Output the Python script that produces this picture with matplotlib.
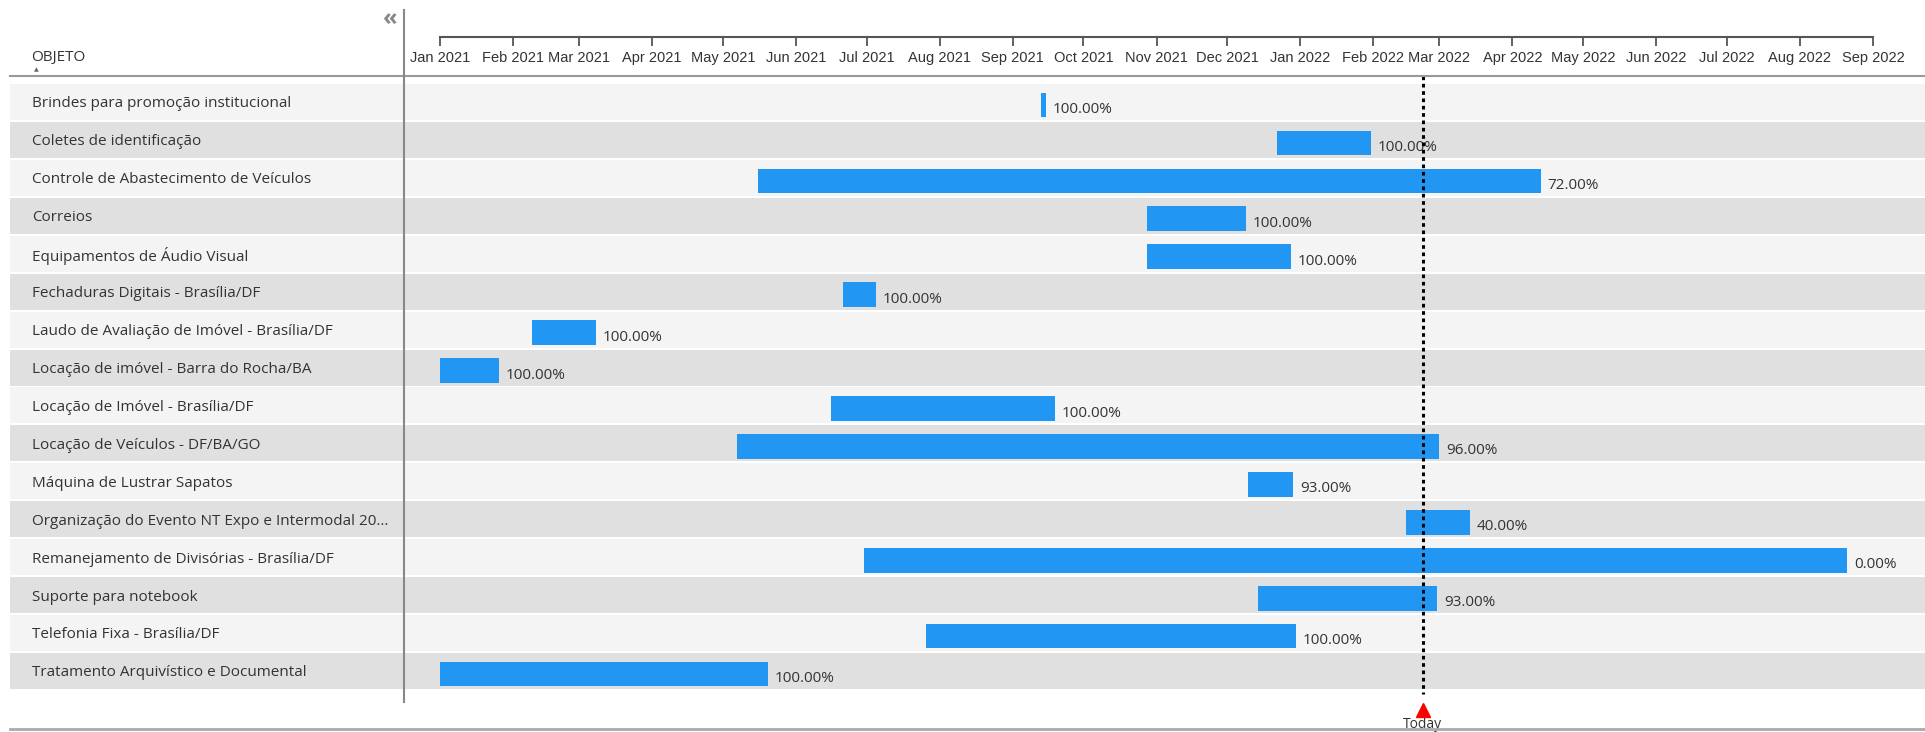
import numpy as np
import pandas as pd
import matplotlib
matplotlib.use('Agg')
import matplotlib.pyplot as plt
import matplotlib.dates as mdates
from matplotlib.lines import Line2D

# dados do gantt
objetos = [
    'Brindes para promoção institucional',
    'Coletes de identificação',
    'Controle de Abastecimento de Veículos',
    'Correios',
    'Equipamentos de Áudio Visual',
    'Fechaduras Digitais - Brasília/DF',
    'Laudo de Avaliação de Imóvel - Brasília/DF',
    'Locação de imóvel - Barra do Rocha/BA',
    'Locação de Imóvel - Brasília/DF',
    'Locação de Veículos - DF/BA/GO',
    'Máquina de Lustrar Sapatos',
    'Organização do Evento NT Expo e Intermodal 20...',
    'Remanejamento de Divisórias - Brasília/DF',
    'Suporte para notebook',
    'Telefonia Fixa - Brasília/DF',
    'Tratamento Arquivístico e Documental',
]
inicio = ['2021-09-13', '2021-12-22', '2021-05-16', '2021-10-28', '2021-10-28',
          '2021-06-21', '2021-02-09', '2021-01-01', '2021-06-16', '2021-05-07',
          '2021-12-10', '2022-02-15', '2021-06-30', '2021-12-14', '2021-07-26',
          '2021-01-01']
fim = ['2021-09-15', '2022-01-31', '2022-04-13', '2021-12-09', '2021-12-28',
       '2021-07-05', '2021-03-08', '2021-01-26', '2021-09-19', '2022-03-01',
       '2021-12-29', '2022-03-14', '2022-08-21', '2022-02-28', '2021-12-30',
       '2021-05-20']
progresso = [100, 100, 72, 100, 100, 100, 100, 100, 100, 96, 93, 40, 0, 93, 100, 100]
hoje = '2022-02-22'
eixo_ini, eixo_fim = '2021-01-01', '2022-09-01'

plt.rcParams['font.family'] = ['Open Sans', 'DejaVu Sans']

W, H = 1925, 732
fig = plt.figure(figsize=(W / 100, H / 100), dpi=100)


def fx(px):
    return px / W


def fy(py):
    return 1 - py / H


top, bot = 83, 690
ax = fig.add_axes([fx(404), fy(bot), 1 - fx(404), (bot - top) / H])
axl = fig.add_axes([fx(10), fy(bot), fx(404) - fx(10), (bot - top) / H])

d_ini = mdates.date2num(pd.to_datetime(inicio))
d_fim = mdates.date2num(pd.to_datetime(fim))
origem = mdates.date2num(pd.Timestamp(eixo_ini))
px_dia = 2.357
xlim = (origem - (440 - 404) / px_dia, origem + (W - 440) / px_dia)

n = len(objetos)
y = np.arange(n)

# faixas das linhas
for i in range(n):
    c = '#f4f4f4' if i % 2 == 0 else '#e0e0e0'
    ax.axhspan(i - 0.5 + 0.025, i + 0.5 - 0.025, color=c, zorder=0, lw=0)
    axl.axhspan(i - 0.5 + 0.025, i + 0.5 - 0.025, color=c, zorder=0, lw=0)
    axl.text(0.056, i + 0.05, objetos[i], transform=axl.get_yaxis_transform(),
             va='center', ha='left', fontsize=11, color='#333333')

ax.barh(y + 0.08, d_fim - d_ini, left=d_ini, height=0.65, color='#2196f3', zorder=2)
for i in range(n):
    ax.annotate(f'{progresso[i]:.2f}%', xy=(d_fim[i], i + 0.2), xytext=(5, 0),
                textcoords='offset points', va='center', ha='left',
                fontsize=11, color='#333333', zorder=3)

for a in (ax, axl):
    a.set_ylim(n - 0.5, -0.5)
    a.set_axis_off()
ax.set_xlim(xlim)
axl.set_xlim(0, 1)

# hoje
t = mdates.date2num(pd.Timestamp(hoje))
ax.plot([t, t], [1.012, -0.006], transform=ax.get_xaxis_transform(),
        ls=(0, (1.2, 1.2)), color='black', lw=2.2, clip_on=False, zorder=4)
ax.plot([t], [-0.033], transform=ax.get_xaxis_transform(), marker='^',
        color='red', ms=10, clip_on=False, zorder=4)
ax.text(t, -0.057, 'Today', transform=ax.get_xaxis_transform(), ha='center',
        va='center', fontsize=10, color='#333333')

# eixo de datas no topo
axt = fig.add_axes([fx(404), fy(37), 1 - fx(404), 0.0001])
axt.set_xlim(xlim)
axt.patch.set_visible(False)
for s in ('top', 'left', 'right'):
    axt.spines[s].set_visible(False)
axt.spines['bottom'].set_bounds(mdates.date2num(pd.Timestamp(eixo_ini)),
                                mdates.date2num(pd.Timestamp(eixo_fim)))
axt.spines['bottom'].set_color('#555555')
axt.spines['bottom'].set_linewidth(1.5)
axt.set_yticks([])
axt.xaxis.set_major_locator(mdates.MonthLocator())
axt.xaxis.set_major_formatter(mdates.DateFormatter('%b %Y'))
axt.tick_params(axis='x', direction='out', length=6.5, width=1.3, color='#555555',
                labelsize=10.5, labelcolor='#333333', pad=3.5,
                labelfontfamily=['Liberation Sans', 'DejaVu Sans'])

# cabecalho e divisorias
fig.text(fx(31), fy(57), 'OBJETO', fontsize=11, color='#333333', va='center', ha='left')
fig.text(fx(36), fy(69.5), '▲', fontsize=4.5, color='#666666', va='center', ha='center',
         family='DejaVu Sans')
fig.text(fx(390), fy(19), '«', fontsize=17, color='#888888', va='center', ha='center',
         weight='bold')
fig.add_artist(Line2D([fx(10), 1], [fy(76), fy(76)], color='#999999', lw=1.5))
fig.add_artist(Line2D([fx(404), fx(404)], [fy(10), fy(702)], color='#888888', lw=1.5))
fig.add_artist(Line2D([fx(10), 1], [fy(729), fy(729)], color='#aaaaaa', lw=2))

fig.savefig('out.png', dpi=100, facecolor='white')
